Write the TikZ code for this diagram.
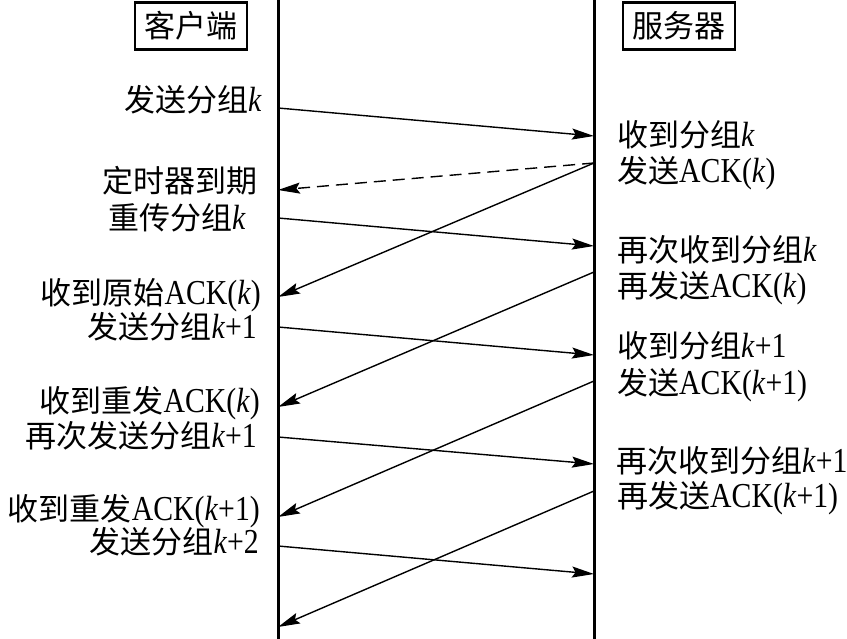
\documentclass[tikz,border=0pt]{standalone}
\usepackage{fontspec}
\setmainfont{Liberation Serif}[FakeStretch=0.85]
\newfontfamily\cjk{Noto Sans CJK SC}
\usetikzlibrary{arrows.meta}
\newcommand{\zh}[1]{{\fontsize{31}{36}\selectfont\cjk #1}}
\begin{document}
\begin{tikzpicture}[x=1pt,y=-1pt,
  lifeline/.style={line width=3pt},
  msg/.style={line width=1.4pt,-{Stealth[length=22pt,width=11pt,inset=3.5pt]}},
  lab/.style={inner sep=0pt,font=\fontsize{35}{36}\selectfont},
  hdr/.style={draw,line width=2.4pt,minimum width=112pt,minimum height=47pt,inner sep=0pt}]
\useasboundingbox (0,0) rectangle (847,639);
% lifelines
\coordinate (ctop) at (278,0);
\coordinate (cbot) at (278,639);
\coordinate (stop) at (594,0);
\coordinate (sbot) at (594,639);
\draw[lifeline] (ctop) -- (cbot);
\draw[lifeline] (stop) -- (sbot);
% headers
\node[hdr] (client) at (191,26) {\zh{客户端}};
\node[hdr] (server) at (679,26) {\zh{服务器}};
% points on lifelines
\coordinate (c1) at (278,108);
\coordinate (c2) at (278,190);
\coordinate (c3) at (278,218);
\coordinate (c4) at (278,297);
\coordinate (c5) at (278,407);
\coordinate (c6) at (278,327);
\coordinate (c7) at (278,517);
\coordinate (c8) at (278,437);
\coordinate (c9) at (278,627);
\coordinate (c10) at (278,546);
\coordinate (s1) at (594,136);
\coordinate (s2) at (594,163);
\coordinate (s3) at (594,246);
\coordinate (s4) at (594,272);
\coordinate (s5) at (594,355);
\coordinate (s6) at (594,381);
\coordinate (s7) at (594,464);
\coordinate (s8) at (594,491);
\coordinate (s9) at (594,574);
% messages
\draw[msg] (c1) -- (s1);
\draw[msg,dash pattern=on 12pt off 7pt] (s2) -- (c2);
\draw[msg] (c3) -- (s3);
\draw[msg] (s2) -- (c4);
\draw[msg] (s4) -- (c5);
\draw[msg] (c6) -- (s5);
\draw[msg] (s6) -- (c7);
\draw[msg] (c8) -- (s7);
\draw[msg] (s8) -- (c9);
\draw[msg] (c10) -- (s9);
% left labels
\node[lab,anchor=base east] (l1) at (262,112) {\zh{发送分组}\textit{k}};
\node[lab,anchor=base east] (l2) at (258,193) {\zh{定时器到期}};
\node[lab,anchor=base east] (l3) at (246,230) {\zh{重传分组}\textit{k}};
\node[lab,anchor=base east] (l4) at (261,305) {\zh{收到原始}ACK(\textit{k})};
\node[lab,anchor=base east] (l5) at (257,338) {\zh{发送分组}\textit{k}+1};
\node[lab,anchor=base east] (l6) at (260,413) {\zh{收到重发}ACK(\textit{k})};
\node[lab,anchor=base east] (l7) at (257,447) {\zh{再次发送分组}\textit{k}+1};
\node[lab,anchor=base east] (l8) at (260,520) {\zh{收到重发}ACK(\textit{k}+1)};
\node[lab,anchor=base east] (l9) at (259,553) {\zh{发送分组}\textit{k}+2};
% right labels
\node[lab,anchor=base west] (r1) at (617,147) {\zh{收到分组}\textit{k}};
\node[lab,anchor=base west] (r2) at (617,183) {\zh{发送}ACK(\textit{k})};
\node[lab,anchor=base west] (r3) at (617,262) {\zh{再次收到分组}\textit{k}};
\node[lab,anchor=base west] (r4) at (617,298) {\zh{再发送}ACK(\textit{k})};
\node[lab,anchor=base west] (r5) at (617,358) {\zh{收到分组}\textit{k}+1};
\node[lab,anchor=base west] (r6) at (617,395) {\zh{发送}ACK(\textit{k}+1)};
\node[lab,anchor=base west] (r7) at (616,472) {\zh{再次收到分组}\textit{k}+1};
\node[lab,anchor=base west] (r8) at (617,507) {\zh{再发送}ACK(\textit{k}+1)};
\end{tikzpicture}
\end{document}
